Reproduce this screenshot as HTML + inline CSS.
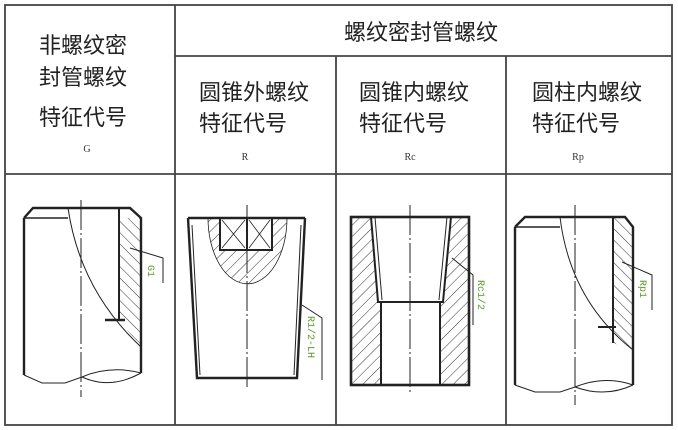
<!DOCTYPE html>
<html><head><meta charset="utf-8">
<style>
html,body{margin:0;padding:0;background:#fff;}
svg{display:block;}
text{font-family:"Liberation Sans","Noto Sans CJK SC",sans-serif;}
.t{font-size:22px;fill:#222;}
.c{font-size:10px;fill:#333;font-family:"Liberation Serif",serif;}
.g{font-size:10px;fill:#5a9a2a;font-family:"Liberation Mono",monospace;}
</style></head>
<body>
<svg width="678" height="430" viewBox="0 0 678 430" xmlns="http://www.w3.org/2000/svg">
<defs>
<pattern id="h" patternUnits="userSpaceOnUse" width="8" height="8" patternTransform="rotate(-45)">
<line x1="0" y1="0" x2="0" y2="8" stroke="#333" stroke-width="1"/>
</pattern>
<pattern id="h2" patternUnits="userSpaceOnUse" width="8" height="8" patternTransform="rotate(45)">
<line x1="0" y1="0" x2="0" y2="8" stroke="#333" stroke-width="1"/>
</pattern>
</defs>
<g stroke="#444" stroke-width="1.8" fill="none">
<rect x="5" y="5" width="667" height="420"/>
<line x1="175" y1="5" x2="175" y2="425"/>
<line x1="175" y1="56" x2="672" y2="56"/>
<line x1="336" y1="56" x2="336" y2="425"/>
<line x1="506" y1="56" x2="506" y2="425"/>
<line x1="5" y1="174" x2="672" y2="174"/>
</g>
<text class="t" x="39" y="53">非螺纹密</text>
<text class="t" x="39" y="85">封管螺纹</text>
<text class="t" x="39" y="125">特征代号</text>
<text class="c" x="87" y="152" text-anchor="middle">G</text>
<text class="t" x="421" y="40" text-anchor="middle">螺纹密封管螺纹</text>
<text class="t" x="199" y="100">圆锥外螺纹</text>
<text class="t" x="199" y="131">特征代号</text>
<text class="c" x="245" y="160" text-anchor="middle">R</text>
<text class="t" x="359" y="100">圆锥内螺纹</text>
<text class="t" x="359" y="131">特征代号</text>
<text class="c" x="410" y="160" text-anchor="middle">Rc</text>
<text class="t" x="532" y="100">圆柱内螺纹</text>
<text class="t" x="532" y="131">特征代号</text>
<text class="c" x="578" y="160" text-anchor="middle">Rp</text>

<g stroke="#222" fill="none">
<path d="M119,218 L141,218 L141,347 L119,320 Z" fill="url(#h)" stroke="none"/>
<path d="M24,218 L33,208 L130,208 L141,218 L141,373" stroke-width="2.4"/>
<path d="M24,218 L24,375" stroke-width="2.4"/>
<line x1="24" y1="218" x2="68" y2="218" stroke-width="1.5"/>
<line x1="119" y1="208" x2="119" y2="320" stroke-width="2"/>
<line x1="105" y1="320" x2="125" y2="320" stroke-width="2.5"/>
<path d="M68,208 Q80,290 141,347" stroke-width="1"/>
<path d="M24,375 L42,383 L65,383 L82,377 Q110,365 141,373" stroke-width="1"/>
<path d="M82,377 Q110,390 141,373" stroke-width="1"/>
<line x1="81" y1="200" x2="81" y2="397" stroke-width="1" stroke-dasharray="30,3,2,3"/>
<path d="M130,248 L163,258 L163,283" stroke-width="1"/>
</g>
<text class="g" transform="translate(148,265) rotate(90)">G1</text>

<g stroke="#222" fill="none">
<path d="M208,218 A39,65 0 0 0 287,218 Z" fill="url(#h2)" stroke-width="0.8"/>
<rect x="220" y="218" width="52" height="32" fill="#fff" stroke-width="2"/>
<line x1="247" y1="218" x2="247" y2="250" stroke-width="2"/>
<path d="M222,220 L245,248 M245,220 L222,248 M249,220 L270,248 M270,220 L249,248" stroke-width="0.8"/>
<path d="M188,218 L305,218 M188,218 L197,378 L297,378 L305,218" stroke-width="2.4"/>
<path d="M192,225 L200,375 M301,225 L294,375" stroke-width="1"/>
<line x1="247" y1="205" x2="247" y2="388" stroke-width="1" stroke-dasharray="30,3,2,3"/>
<path d="M302,305 L322,318 L322,380" stroke-width="1"/>
</g>
<text class="g" transform="translate(308,316) rotate(90)">R1/2-LH</text>

<g stroke="#222" fill="none">
<path d="M351,217 L371,217 L378,302 L381,302 L381,385 L351,385 Z" fill="url(#h2)" stroke="none"/>
<path d="M451,217 L469,217 L469,385 L440,385 L440,302 L443,302 Z" fill="url(#h2)" stroke="none"/>
<rect x="351" y="217" width="118" height="168" stroke-width="2.6"/>
<path d="M371,217 L378,302 L443,302 L451,217" stroke-width="2"/>
<path d="M375,217 L382,300 M447,217 L439,300" stroke-width="1"/>
<path d="M381,302 L381,385 M440,302 L440,385" stroke-width="2"/>
<line x1="410" y1="205" x2="410" y2="395" stroke-width="1" stroke-dasharray="30,3,2,3"/>
<path d="M452,258 L473,275 L473,325" stroke-width="1"/>
</g>
<text class="g" transform="translate(478,280) rotate(90)">Rc1/2</text>

<g stroke="#222" fill="none">
<path d="M613,217 L625,217 L633,227 L633,350 L613,343 Z" fill="url(#h)" stroke="none"/>
<path d="M515,227 L525,217 L625,217 L633,227 L633,385" stroke-width="2.4"/>
<path d="M515,227 L515,385" stroke-width="2.4"/>
<line x1="515" y1="227" x2="560" y2="227" stroke-width="1.5"/>
<line x1="613" y1="217" x2="613" y2="343" stroke-width="2"/>
<line x1="598" y1="327" x2="616" y2="327" stroke-width="2"/>
<path d="M560,217 Q570,300 633,350" stroke-width="1"/>
<path d="M515,385 L535,392 L560,392 L575,387 Q605,375 633,385" stroke-width="1"/>
<path d="M575,387 Q605,398 633,385" stroke-width="1"/>
<line x1="575" y1="205" x2="575" y2="405" stroke-width="1" stroke-dasharray="30,3,2,3"/>
<path d="M622,262 L652,275 L652,310" stroke-width="1"/>
</g>
<text class="g" transform="translate(640,280) rotate(90)">Rp1</text>
</svg>
</body></html>
